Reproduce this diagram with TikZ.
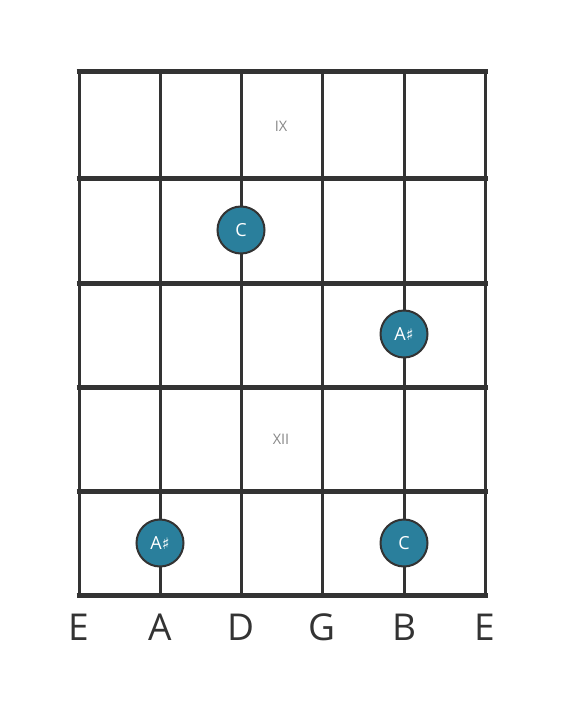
\documentclass[tikz,border=0pt]{standalone}
\usepackage{fontspec}
\setmainfont{Open Sans}
\newfontfamily\symfont{DejaVu Sans}
\definecolor{linec}{HTML}{333333}
\definecolor{dotc}{HTML}{2A7F9C}
\definecolor{romanc}{HTML}{888888}
\begin{document}
\begin{tikzpicture}[x=1bp,y=-1bp,
  fretline/.style={draw=linec,line width=5bp},
  stringline/.style={draw=linec,line width=3bp},
  notedot/.style={circle,fill=dotc,draw=linec,line width=2bp,minimum size=47bp,inner sep=0pt,text=white,font=\fontsize{18bp}{18bp}\selectfont},
  roman/.style={text=romanc,font=\fontsize{14.5bp}{14.5bp}\selectfont},
  strname/.style={text=linec,font=\fontsize{37bp}{37bp}\selectfont}]
\useasboundingbox (0,0) rectangle (566,711);
\fill[white] (0,0) rectangle (566,711);
% strings
\foreach \i/\x in {1/79,2/160,3/241,4/322,5/404,6/485}{
  \coordinate (st\i) at (\x,72);
  \coordinate (sb\i) at (\x,595);
  \draw[stringline] (st\i) -- (sb\i);
}
% frets
\foreach \j/\y in {0/72,1/178,2/283,3/387,4/491,5/595}{
  \coordinate (fl\j) at (76.5,\y);
  \coordinate (fr\j) at (487.5,\y);
  \draw[fretline] (fl\j) -- (fr\j);
}
% fret markers
\node[roman] (ix) at (281,126) {IX};
\node[roman] (xii) at (281,439) {XII};
% notes
\node[notedot] (n1) at (241,230) {C};
\node[notedot] (n2) at (404,334) {A{\symfont\fontsize{16bp}{16bp}\selectfont ♯}};
\node[notedot] (n3) at (160,543) {A{\symfont\fontsize{16bp}{16bp}\selectfont ♯}};
\node[notedot] (n4) at (404,543) {C};
% string names
\foreach \i/\x/\n in {1/79/E,2/160/A,3/241/D,4/322/G,5/404/B,6/485/E}{
  \node[strname] (name\i) at (\x,627) {\n};
}
\end{tikzpicture}
\end{document}
